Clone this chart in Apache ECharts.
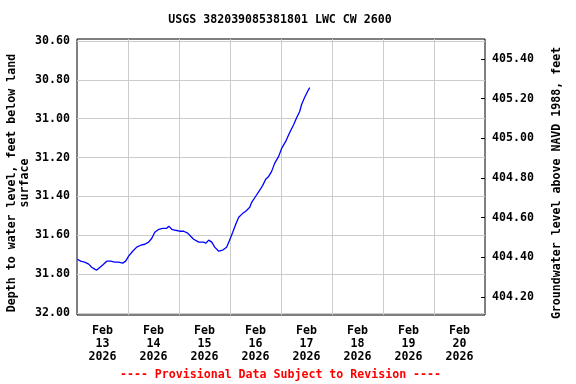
<!DOCTYPE html>
<html>
<head>
<meta charset="utf-8">
<script src="https://cdn.jsdelivr.net/npm/echarts@6/dist/echarts.min.js"></script>
<style>html,body{margin:0;padding:0;background:#fff;}#c{width:576px;height:384px;}</style>
</head>
<body>
<div id="c"></div>
<script>
// Hours since Feb 13 2026 00:00
var hours = [0.2,1.7,3.6,5.5,6.9,8.3,9.3,10.2,12.1,14.0,15.9,17.7,19.6,21.5,22.9,24.3,26.2,28.1,30.0,31.9,33.7,35.2,36.6,38.5,40.3,42.2,43.2,44.6,46.4,48.3,50.2,52.1,53.5,54.9,57.3,59.6,60.6,62.0,63.4,64.8,66.7,68.6,70.4,71.8,73.3,74.7,76.1,78.0,79.4,81.3,82.2,84.1,86.0,87.4,88.8,90.2,91.6,93.0,94.9,96.3,98.2,100.1,102.0,103.4,104.8,105.7,107.1,108.5,109.5];
// Depth to water level, feet below land surface
var depth = [31.723,31.733,31.738,31.748,31.764,31.774,31.779,31.769,31.753,31.733,31.733,31.738,31.738,31.743,31.733,31.707,31.682,31.661,31.651,31.646,31.635,31.615,31.584,31.569,31.564,31.564,31.553,31.569,31.574,31.579,31.579,31.589,31.605,31.620,31.635,31.635,31.641,31.625,31.635,31.661,31.682,31.676,31.661,31.625,31.584,31.543,31.507,31.487,31.476,31.456,31.430,31.399,31.368,31.343,31.312,31.297,31.271,31.230,31.194,31.153,31.117,31.071,31.030,30.994,30.963,30.927,30.891,30.860,30.840];
var dayLabels = ['Feb\n13\n2026','Feb\n14\n2026','Feb\n15\n2026','Feb\n16\n2026','Feb\n17\n2026','Feb\n18\n2026','Feb\n19\n2026','Feb\n20\n2026'];
var labelHours = [12,36,60,84,108,132,156,180];
var titleText = 'USGS 382039085381801 LWC CW 2600';
var leftName = 'Depth to water level, feet below land\nsurface';
var rightName = 'Groundwater level above NAVD 1988, feet';
var footer = '---- Provisional Data Subject to Revision ----';

var FONT = '"DejaVu Sans Mono", monospace';
var FS = 11.6;
var seriesData = hours.map(function(h, i){ return [h, depth[i]]; });
var gridLine = {show: true, showMinLine: false, showMaxLine: false, lineStyle: {color: '#cccccc', width: 1}};

var chart = echarts.init(document.getElementById('c'), null, {renderer:'canvas'});
chart.setOption({
  animation: false,
  backgroundColor: '#ffffff',
  grid: {left: 77, top: 39, width: 408, height: 276, show: true, borderColor: '#000', borderWidth: 1, backgroundColor: 'transparent'},
  xAxis: [{
    type: 'value', min: 0, max: 192, interval: 24,
    axisLine: {show: false, onZero: false}, axisTick: {show: false}, axisLabel: {show: false},
    splitLine: gridLine
  }, {
    type: 'value', min: 0, max: 192, position: 'bottom',
    axisLine: {show: false, onZero: false}, axisTick: {show: false},
    splitLine: {show: false},
    axisLabel: {show: true, customValues: labelHours, margin: 9, lineHeight: 13,
      fontFamily: FONT, fontSize: FS, fontWeight: 'bold', color: '#000',
      formatter: function(v){ var i = labelHours.indexOf(Math.round(v)); return i >= 0 ? dayLabels[i] : ''; }}
  }],
  yAxis: [{
    type: 'value', min: 30.59, max: 32.01, splitNumber: 7, inverse: true, position: 'left',
    axisLine: {show: false, onZero: false}, axisTick: {show: false},
    axisLabel: {showMinLabel: false, showMaxLabel: false, margin: 7, fontFamily: FONT, fontSize: FS, fontWeight: 'bold', color: '#000',
      formatter: function(v){ return v.toFixed(2); }},
    splitLine: gridLine
  }, {
    type: 'value', min: 404.11, max: 405.50, splitNumber: 7, position: 'right',
    axisLine: {show: false, onZero: false},
    axisTick: {show: true, inside: true, length: 4, lineStyle: {color: '#000', width: 1}},
    axisLabel: {showMinLabel: false, showMaxLabel: false, margin: 7, fontFamily: FONT, fontSize: FS, fontWeight: 'bold', color: '#000',
      formatter: function(v){ return v.toFixed(2); }},
    splitLine: {show: false}
  }],
  graphic: [
    {type: 'text', x: 280, y: 20, style: {text: titleText, fontFamily: FONT, fontSize: FS, fontWeight: 'bold', fill: '#000', align: 'center', verticalAlign: 'middle'}},
    {type: 'text', x: 18.5, y: 183, rotation: Math.PI/2, style: {text: leftName, fontFamily: FONT, fontSize: FS, fontWeight: 'bold', fill: '#000', align: 'center', verticalAlign: 'middle', lineHeight: 13}},
    {type: 'text', x: 557, y: 183, rotation: Math.PI/2, style: {text: rightName, fontFamily: FONT, fontSize: FS, fontWeight: 'bold', fill: '#000', align: 'center', verticalAlign: 'middle'}},
    {type: 'text', x: 280.5, y: 375, style: {text: footer, fontFamily: FONT, fontSize: FS, fontWeight: 'bold', fill: '#ff0000', align: 'center', verticalAlign: 'middle'}}
  ],
  series: [{
    type: 'line', xAxisIndex: 0, yAxisIndex: 0, data: seriesData,
    showSymbol: false, symbol: 'none', lineStyle: {color: '#0000ff', width: 1.3}
  }]
});
</script>
</body>
</html>
